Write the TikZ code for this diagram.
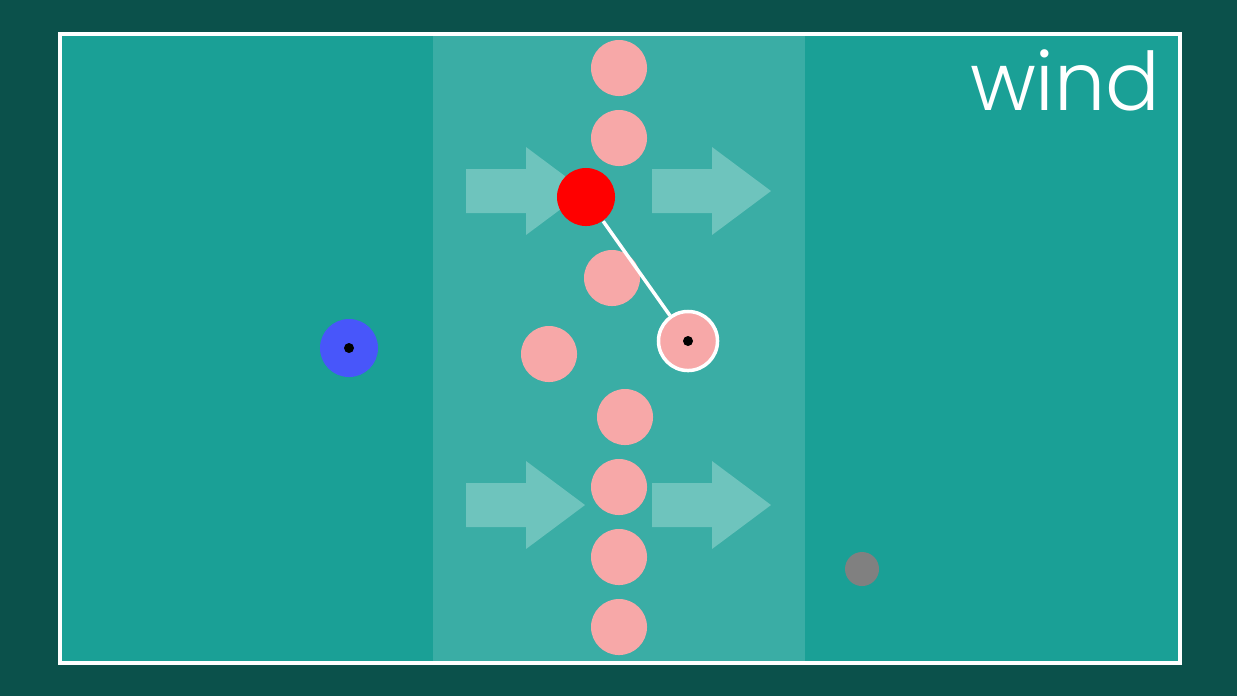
\documentclass[tikz,border=0pt]{standalone}
\usepackage{fontspec}
\setmainfont{Poppins}[UprightFont=* Light]
\usepackage{tikz}
\definecolor{outer}{RGB}{11, 81, 75}
\definecolor{field}{RGB}{26, 160, 150}
\definecolor{band}{RGB}{58, 173, 165}
\definecolor{gust}{RGB}{110, 196, 189}
\definecolor{pink}{RGB}{247, 168, 168}
\definecolor{hot}{RGB}{255, 0, 0}
\definecolor{mover}{RGB}{72, 86, 250}
\definecolor{rest}{RGB}{128, 128, 128}

\begin{document}
\begin{tikzpicture}[x=0.01cm, y=-0.01cm,
    ball/.style={circle, inner sep=0, fill=pink, minimum size=0.56cm},
    pin/.style={circle, inner sep=0, fill=black, minimum size=0.1cm}]
  \fill[outer] (0, 0) rectangle (1237, 696);
  \fill[field] (60, 34) rectangle (1180, 663);
  \fill[band] (433, 34) rectangle (805, 663);

  % wind arrows
  \foreach \x/\y in {466/191, 652/191, 466/505, 652/505} {
    \fill[gust] (\x, \y - 22) -- (\x + 60, \y - 22) -- (\x + 60, \y - 44) -- (\x + 119, \y)
      -- (\x + 60, \y + 44) -- (\x + 60, \y + 22) -- (\x, \y + 22) -- cycle;
  }

  \draw[white, line width=0.035cm] (60, 34) rectangle (1180, 663);

  \foreach [count=\n] \x/\y in {619/68, 619/138, 612/278, 549/354, 625/417, 619/487, 619/557, 619/627}
    \node[ball] (p\n) at (\x, \y) {};

  \node[ball, fill=hot, minimum size=0.58cm] (red) at (586, 197) {};
  \node[ball, draw=white, line width=0.035cm, minimum size=0.59cm] (ring) at (688, 341) {};
  \node[pin] (ringdot) at (ring) {};
  \draw[white, line width=0.035cm] (red) -- (ring);

  \node[ball, fill=mover, minimum size=0.58cm] (blue) at (349, 348) {};
  \node[pin] (bluedot) at (blue) {};

  \node[ball, fill=rest, minimum size=0.34cm] (grey) at (862, 569) {};

  \node[white, anchor=base east, inner sep=0, font=\fontsize{23}{23}\selectfont] (label) at (1161, 110) {wind};
\end{tikzpicture}
\end{document}
